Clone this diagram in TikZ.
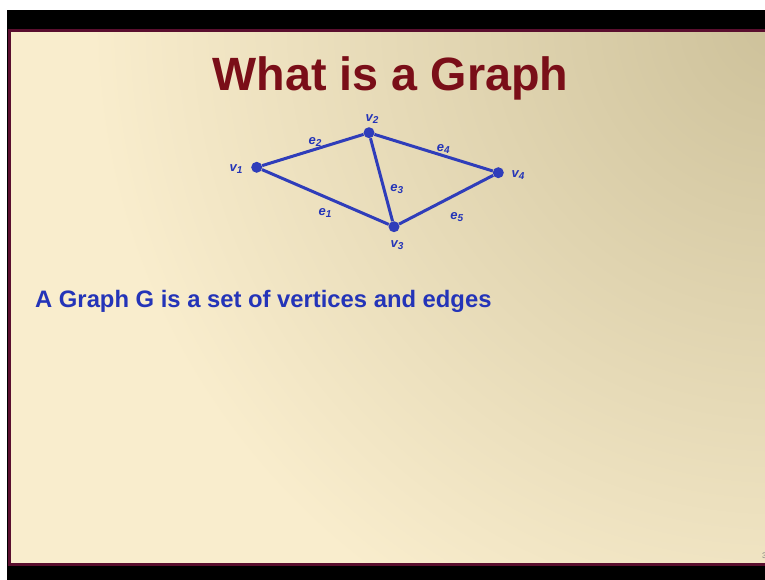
\documentclass[tikz,border=0pt]{standalone}
\usepackage{fontspec}
\setmainfont{Liberation Sans}
\definecolor{titlered}{HTML}{7A0E18}
\definecolor{gblue}{HTML}{2F3DBA}
\definecolor{tblue}{HTML}{2434B8}
\definecolor{cream}{HTML}{F9EDCD}
\definecolor{tan}{HTML}{CDC19A}
\definecolor{maroon}{HTML}{5A0E2E}
\newcommand{\lsub}[1]{\raisebox{-2pt}{\fontsize{10}{10}\selectfont #1}}
\tikzset{
  vtx/.style={circle, fill=gblue, inner sep=0pt, minimum size=11pt},
  edge/.style={draw=gblue, line width=3pt},
  lbl/.style={text=tblue, inner sep=0pt, font=\fontsize{13}{13}\selectfont\bfseries\itshape},
}
\begin{document}
\begin{tikzpicture}[x=1pt,y=-1pt]
\useasboundingbox (0,0) rectangle (765,580);
\fill[white] (0,0) rectangle (765,580);
\fill[black] (7,10) rectangle (765,580);
\fill[cream] (9,30) rectangle (767,565);
\begin{scope}
\clip (9,30) rectangle (767,565);
\shade[inner color=tan, outer color=cream] (780,20) circle (690);
\end{scope}
\draw[maroon, line width=3pt] (9.5,30.5) rectangle (768,564.5);
% title
\node[anchor=base, text=titlered, inner sep=0pt, font=\fontsize{46.7}{54}\selectfont\bfseries] (title) at (390.5,91) {What is a Graph};
% graph
\node[vtx] (v1) at (256.7,167.3) {};
\node[vtx] (v2) at (369,132.7) {};
\node[vtx] (v3) at (394,226.7) {};
\node[vtx] (v4) at (498.3,172.7) {};
\draw[edge] (v1) -- (v2);
\draw[edge] (v1) -- (v3);
\draw[edge] (v2) -- (v3);
\draw[edge] (v2) -- (v4);
\draw[edge] (v3) -- (v4);
\node[lbl] (l1) at (236,169) {v\lsub{1}};
\node[lbl] (l2) at (372,119) {v\lsub{2}};
\node[lbl] (l3) at (397,245) {v\lsub{3}};
\node[lbl] (l4) at (518,175) {v\lsub{4}};
\node[lbl] (e2) at (315,141.7) {e\lsub{2}};
\node[lbl] (e4) at (443.3,149.3) {e\lsub{4}};
\node[lbl] (e3) at (396.7,189.3) {e\lsub{3}};
\node[lbl] (e1) at (325,213.3) {e\lsub{1}};
\node[lbl] (e5) at (456.7,216.7) {e\lsub{5}};
% body text
\node[anchor=base west, text=tblue, inner sep=0pt, font=\fontsize{23.8}{28}\selectfont\bfseries] (body) at (35,307) {A Graph G is a set of vertices and edges};
% cut-off page number
\node[anchor=base west, text=gray, inner sep=0pt, font=\fontsize{8}{8}\selectfont] (pg) at (762,558) {3};
\end{tikzpicture}
\end{document}
